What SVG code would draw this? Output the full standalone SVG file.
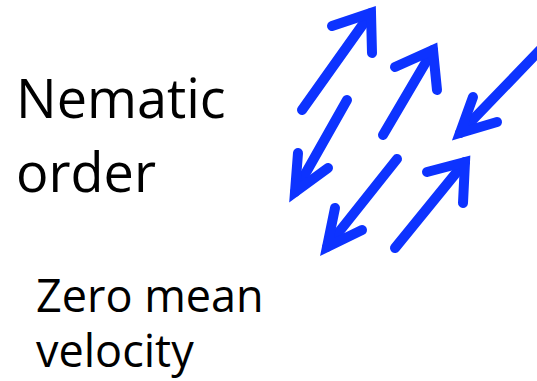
<svg xmlns="http://www.w3.org/2000/svg" width="537" height="381" viewBox="0 0 537 381">
<style>
.t{font-family:"Open Sans","Noto Sans",sans-serif;fill:#000}
.big{font-size:54px}
.sm{font-size:45px}
.a{fill:none;stroke:#0d33ff;stroke-width:10;stroke-linecap:round;stroke-linejoin:miter}
</style>
<rect width="537" height="381" fill="#fff"/>
<g id="label-nematic">
<text class="t big" x="16" y="118">Nematic</text>
<text class="t big" x="16" y="192">order</text>
</g>
<g id="label-zero">
<text class="t sm" x="36" y="312">Zero mean</text>
<text class="t sm" x="36" y="367">velocity</text>
</g>
<g id="connectors">
<g id="arrow1"><path class="a" d="M302,110 L371,13"/><path class="a" d="M332,26 L371,13 L372,53"/></g>
<g id="arrow2"><path class="a" d="M383,135 L433,50"/><path class="a" d="M395,67 L433,50 L437,90"/></g>
<g id="arrow3"><path class="a" d="M540,50 L460,133"/><path class="a" d="M473,97 L460,133 L497,122"/></g>
<g id="arrow4"><path class="a" d="M347,100 L295,192"/><path class="a" d="M298,153 L295,192 L328,168"/></g>
<g id="arrow5"><path class="a" d="M397,159 L327,247"/><path class="a" d="M335,208 L327,247 L362,230"/></g>
<g id="arrow6"><path class="a" d="M395,248 L465,162"/><path class="a" d="M427,172 L465,162 L463,203"/></g>
</g>
</svg>
